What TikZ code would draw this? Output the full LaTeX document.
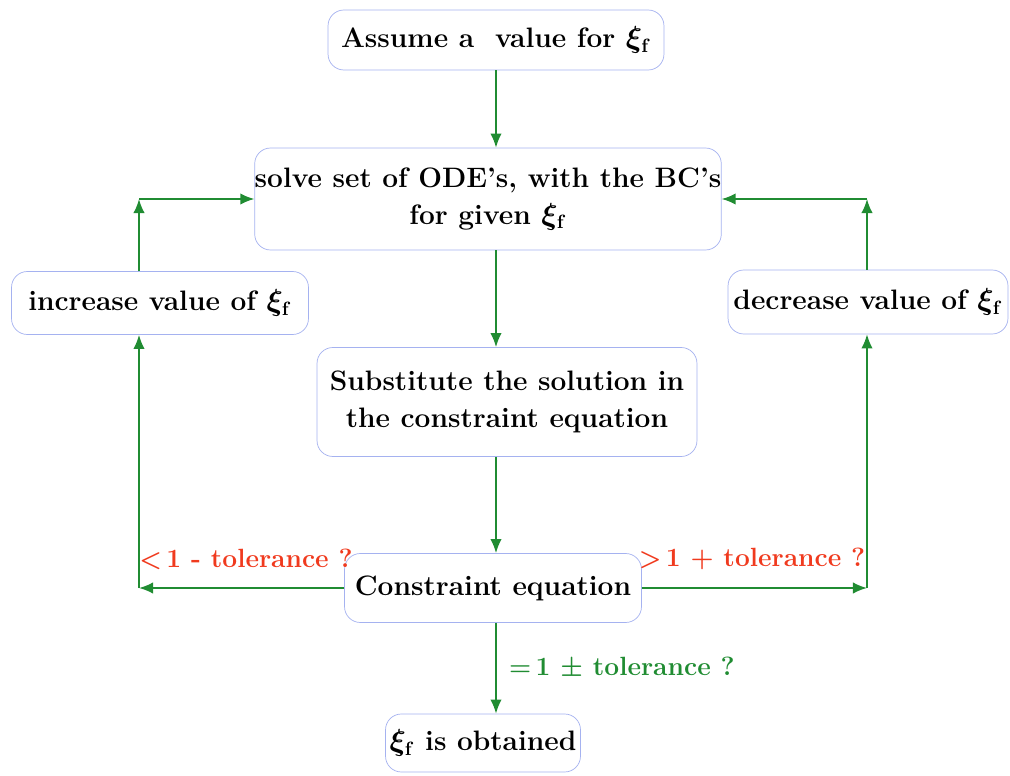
\documentclass[tikz,border=0pt]{standalone}
\usepackage{amsmath,amssymb}
\usepackage{xcolor}
\usepackage{tikz}
\usetikzlibrary{positioning, arrows.meta}

\definecolor{flowgreen}{RGB}{32,140,50}
\definecolor{flowred}{RGB}{240,58,30}
\definecolor{boxblue}{RGB}{165,178,240}
\newcommand{\xif}{$\xi_{\mathrm{f}}$}

\begin{document}
\begin{tikzpicture}[x=0.02cm, y=-0.02cm,
    font=\fontsize{16}{21}\selectfont\bfseries\boldmath,
    box/.style={draw=boxblue, rounded corners=9pt, fill=white, align=center, inner sep=0pt},
    flow/.style={draw=flowgreen, line width=1pt, -{Latex[length=8pt, width=6.5pt]}},
    cond/.style={inner sep=1pt, font=\fontsize{15}{20}\selectfont\bfseries\boldmath}]
			\useasboundingbox (0,0) rectangle (1010,776);

			% Main column
			\node[box, minimum width=6.72cm, minimum height=1.2cm] (assume) at (496,40) {Assume a\ \ value for \xif};
			\node[box, minimum width=9.24cm, minimum height=2.04cm] (solve) at (488,199) {solve set of ODE's, with the BC's\\for given \xif};
			\node[box, minimum width=7.6cm, minimum height=2.18cm] (subst) at (507,402) {Substitute the solution in\\the constraint equation};
			\node[box, minimum width=5.94cm, minimum height=1.38cm] (constr) at (493,588) {Constraint equation};
			\node[box, minimum width=3.9cm, minimum height=1.16cm] (found) at (483,743) {\xif{} is obtained};

			% Side boxes
			\node[box, minimum width=5.94cm, minimum height=1.26cm] (increase) at (160,303) {increase value of \xif};
			\node[box, minimum width=5.6cm, minimum height=1.28cm] (decrease) at (868,302) {decrease value of \xif};

			% Helper points
			\coordinate (mid) at (496,0);
			\coordinate (lc) at (139,588);
			\coordinate (rc) at (867,588);

			% Downward flow
			\draw[flow] (assume.south -| mid) -- (solve.north -| mid);
			\draw[flow] (solve.south -| mid) -- (subst.north -| mid);
			\draw[flow] (subst.south -| mid) -- (constr.north -| mid);
			\draw[flow] (constr.south -| mid) -- (found.north -| mid)
				node[cond, midway, right=6pt, text=flowgreen] (eqlbl) {$=$\,1 $\pm$ tolerance ?};

			% Left loop
			\draw[flow] (constr.west) -- (lc);
			\draw[flow] (lc) -- (lc |- increase.south);
			\draw[flow] (lc |- increase.north) -- (lc |- solve.west);
			\draw[flow] (lc |- solve.west) -- (solve.west);
			\node[cond, text=flowred, anchor=south] (lowlbl) at (246,572) {$<$\,1 - tolerance ?};

			% Right loop
			\draw[flow] (constr.east) -- (rc);
			\draw[flow] (rc) -- (rc |- decrease.south);
			\draw[flow] (rc |- decrease.north) -- (rc |- solve.east);
			\draw[flow] (rc |- solve.east) -- (solve.east);
			\node[cond, text=flowred, anchor=south] (highlbl) at (752,572) {$>$\,1 + tolerance ?};
		\end{tikzpicture}
\end{document}
